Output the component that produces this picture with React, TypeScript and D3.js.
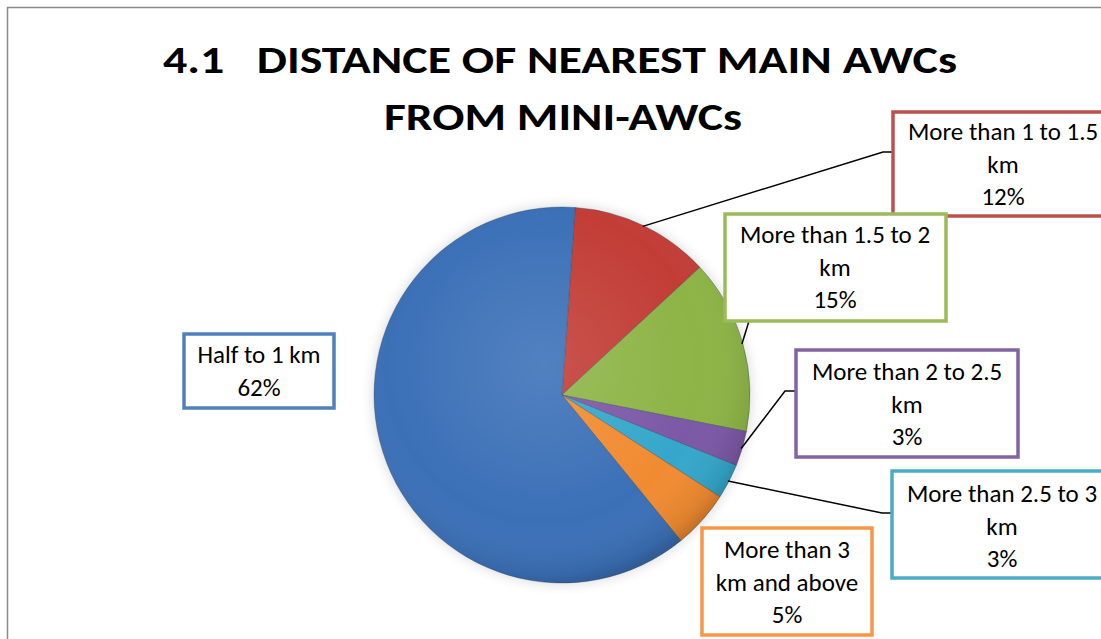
import React from "react";
import * as d3 from "d3";

// ---- data ----
const categories: string[][] = [
  ["More than 1 to 1.5", "km"],
  ["More than 1.5 to 2", "km"],
  ["More than 2 to 2.5", "km"],
  ["More than 2.5 to 3", "km"],
  ["More than 3", "km and above"],
  ["Half to 1 km"],
];
const values: number[] = [12, 15, 3, 3, 5, 62];
const percentLabels: string[] = ["12%", "15%", "3%", "3%", "5%", "62%"];
const colors: string[] = ["#C0504D", "#9BBB59", "#8064A2", "#4BACC6", "#F79646", "#4F81BD"];
const fillColors: string[] = ["#c23d36", "#8db446", "#7c58a6", "#35a7cb", "#f18b31", "#3b70b7"];
const titleLines: string[] = ["4.1   DISTANCE OF NEAREST MAIN AWCs", "FROM MINI-AWCs"];

// ---- layout (positions only) ----
const W = 1101;
const H = 639;
const cx = 562;
const cy = 395;
const R = 188;
const startDeg = 4;
const boxes = [
  { x: 893, y: 112, w: 222, h: 104, tx: 1003, ty: 140, leader: [[883, 152], [893, 152]] },
  { x: 725, y: 214, w: 221, h: 107, tx: 835, ty: 243, leader: [[749, 321]] },
  { x: 796, y: 350, w: 222, h: 107, tx: 907, ty: 380, leader: [[785, 391], [796, 391]] },
  { x: 892, y: 471, w: 222, h: 107, tx: 1002, ty: 502, leader: [[882, 513], [892, 513]] },
  { x: 702, y: 528, w: 170, h: 107, tx: 787, ty: 558, leader: [] as number[][] },
  { x: 184, y: 334, w: 150, h: 74, tx: 259, ty: 363, leader: [] as number[][] },
];
const lineGap = 32.5;

export default function App() {
  const toRad = (d: number) => (d * Math.PI) / 180;
  const pie = d3
    .pie<number>()
    .sort(null)
    .value((d) => d)
    .startAngle(toRad(startDeg))
    .endAngle(toRad(startDeg) + 2 * Math.PI);
  const arcs = pie(values);
  const arc = d3.arc<d3.PieArcDatum<number>>().innerRadius(0).outerRadius(R);
  const leaderArc = d3.arc<d3.PieArcDatum<number>>().innerRadius(187).outerRadius(187);

  const font = "Carlito, Lato, 'Open Sans', sans-serif";

  return (
    <svg
      width={W}
      height={H}
      style={{ position: "absolute", left: 0, top: 0, background: "#fff" }}
    >
      <defs>
        <radialGradient id="shade" cx="45%" cy="42%" r="60%">
          <stop offset="0%" stopColor="#fff" stopOpacity={0.12} />
          <stop offset="70%" stopColor="#fff" stopOpacity={0} />
          <stop offset="93%" stopColor="#000" stopOpacity={0.08} />
          <stop offset="100%" stopColor="#000" stopOpacity={0.22} />
        </radialGradient>
        <filter id="glow" x="-20%" y="-20%" width="140%" height="140%">
          <feGaussianBlur stdDeviation="6" />
        </filter>
      </defs>
      <rect x={0} y={0} width={W} height={H} fill="#fff" />
      <path d={`M7.5,${H + 5} V7.5 H${W + 5}`} fill="none" stroke="#8a8a8a" strokeWidth={1.5} />

      <text
        x={560}
        y={73}
        textAnchor="middle"
        fontFamily={font}
        fontWeight={800}
        fontSize={39}
        textLength={794}
        lengthAdjust="spacingAndGlyphs"
        fill="#000"
        style={{ whiteSpace: "pre" }}
      >
        {titleLines[0]}
      </text>
      <text
        x={563}
        y={130}
        textAnchor="middle"
        fontFamily={font}
        fontWeight={800}
        fontSize={39}
        textLength={358}
        lengthAdjust="spacingAndGlyphs"
        fill="#000"
      >
        {titleLines[1]}
      </text>

      <g transform={`translate(${cx},${cy})`}>
        <circle r={R + 2} fill="#000" opacity={0.12} filter="url(#glow)" />
        {arcs.map((a, i) => (
          <path key={i} d={arc(a) || ""} fill={fillColors[i]} stroke="#2b3e55" strokeOpacity={0.35} strokeWidth={1} />
        ))}
        <circle r={R} fill="url(#shade)" />
      </g>

      {arcs.map((a, i) => {
        const b = boxes[i];
        if (!b.leader.length) return null;
        const [px, py] = leaderArc.centroid(a);
        const pts = [[px + cx, py + cy], ...b.leader];
        return (
          <polyline
            key={"l" + i}
            points={pts.map((p) => p.join(",")).join(" ")}
            fill="none"
            stroke="#000"
            strokeWidth={1.5}
          />
        );
      })}

      {boxes.map((b, i) => {
        const lines = [...categories[i], percentLabels[i]];
        return (
          <g key={"b" + i}>
            <rect x={b.x} y={b.y} width={b.w} height={b.h} fill="#fff" stroke={colors[i]} strokeWidth={3.5} />
            {lines.map((t, j) => (
              <text
                key={j}
                x={b.tx}
                y={b.ty + j * lineGap}
                textAnchor="middle"
                fontFamily={font}
                fontSize={25}
                fill="#000"
              >
                {t}
              </text>
            ))}
          </g>
        );
      })}
    </svg>
  );
}
